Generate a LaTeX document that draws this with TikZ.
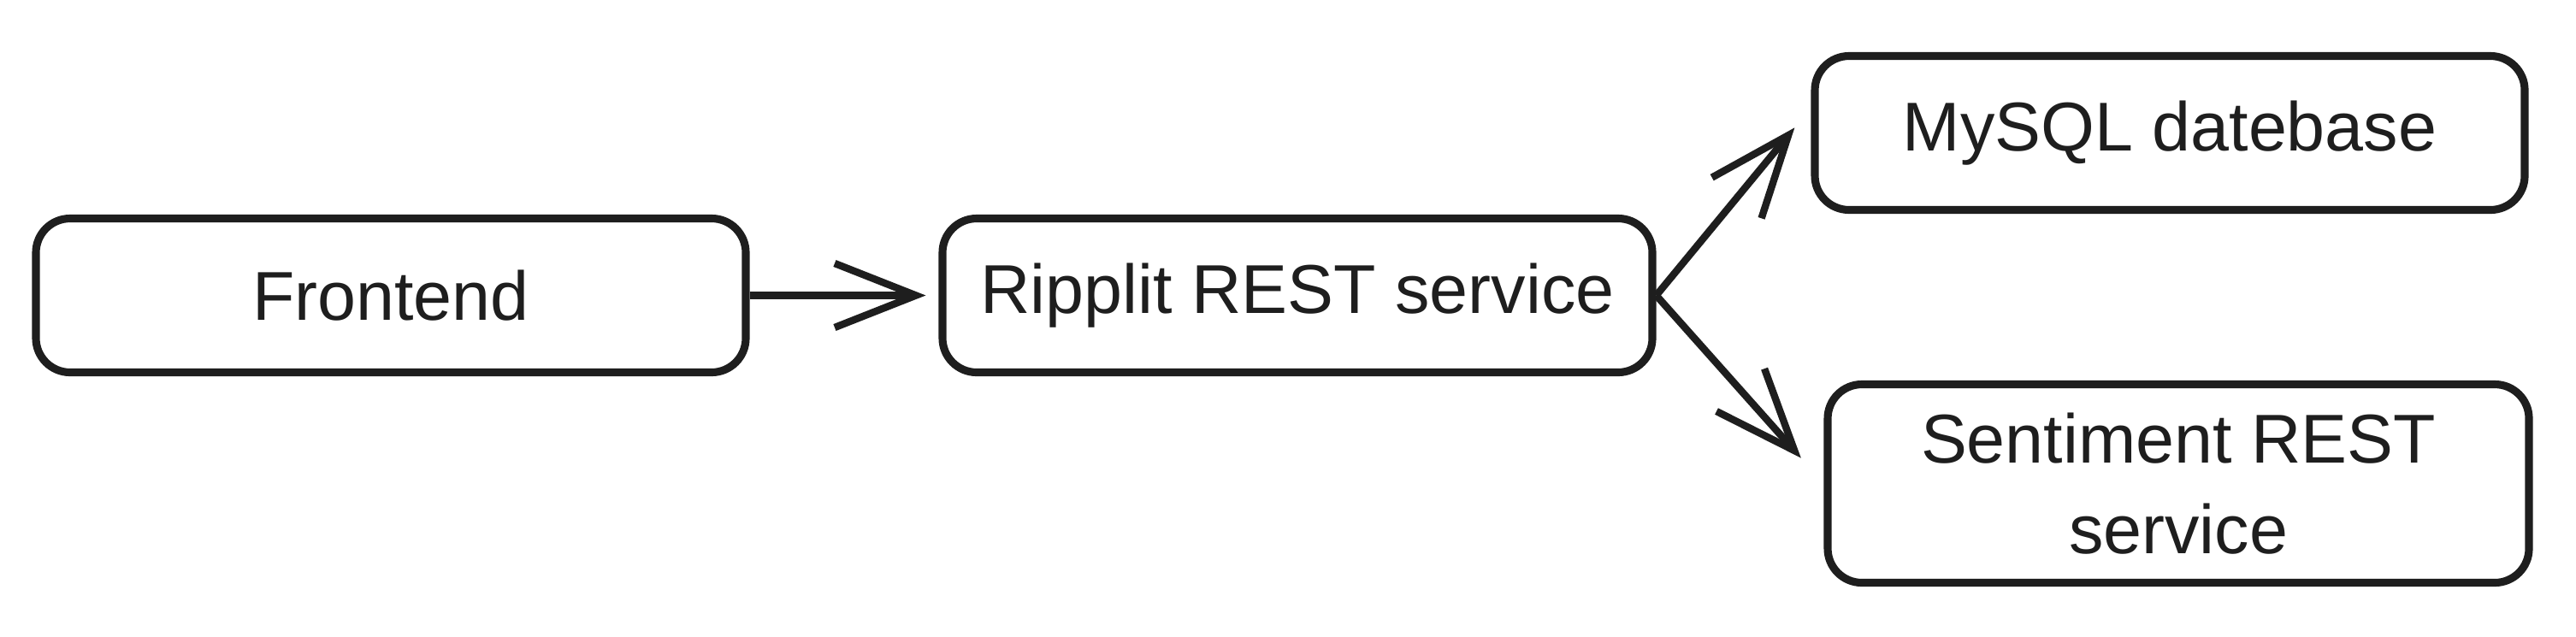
\documentclass[tikz,border=0pt]{standalone}
\usepackage{fontspec}
\setmainfont{Liberation Sans}
\usetikzlibrary{arrows.meta}
\definecolor{ink}{HTML}{1E1E1E}

\begin{document}
\begin{tikzpicture}[node distance=10.6cm]
  \tikzstyle{every node}=[font=\fontsize{23}{30}\selectfont,text=ink]
  \tikzstyle{box}=[draw=ink,line width=2.6pt,rounded corners=0.4cm,minimum width=8.3cm,minimum height=1.8cm,align=center]
  \tikzstyle{flow}=[draw=ink,line width=2.4pt,-{Straight Barb[length=0.95cm,width=0.75cm]}]

  \useasboundingbox (0,0) rectangle (30.12,-7.44);

  \node[box]  (frontend)  at (4.57,-3.455)                             {Frontend};
  \node[box]  (ripplit)   [right of=frontend]                          {Ripplit REST service};
  \node[box]  (mysql)     [right of=ripplit,xshift=-0.4cm,yshift=1.9cm] {MySQL datebase};
  \node[box,minimum width=8.2cm,minimum height=2.32cm] (sentiment)
                          [right of=ripplit,xshift=-0.3cm,yshift=-2.2cm] {Sentiment REST\\service};

  \draw[flow,shorten >=0.15cm] (frontend)     to (ripplit);
  \draw[flow,shorten >=0.3cm]  (ripplit.east) to (mysql.176);
  \draw[flow,shorten >=0.4cm]  (ripplit.east) to (sentiment.west);

\end{tikzpicture}
\end{document}
